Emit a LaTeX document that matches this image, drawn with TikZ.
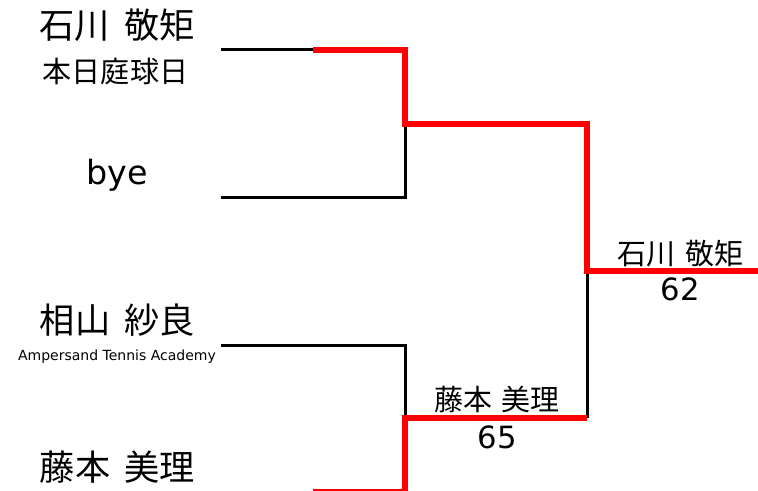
\documentclass[tikz,border=0pt]{standalone}
\usepackage{fontspec}
\setmainfont{DejaVu Sans}
\newfontfamily\jp{Noto Sans CJK JP}
\newfontfamily\lat{DejaVu Sans}
\newcommand{\gapA}{\hspace{0.41em}}
\newcommand{\gapB}{\hspace{0.34em}}
\begin{document}
\begin{tikzpicture}[x=0.75pt,y=-0.75pt,
  thin line/.style={line width=2.25pt,black},
  win line/.style={line width=4.5pt,red,line join=miter},
  namebig/.style={inner sep=0pt,font=\jp\fontsize{26.4}{26.4}\selectfont},
  clubjp/.style={inner sep=0pt,font=\jp\fontsize{21.8}{21.8}\selectfont},
  clublat/.style={inner sep=0pt,font=\lat\fontsize{10.5}{10.5}\selectfont},
  byetext/.style={inner sep=0pt,font=\lat\fontsize{25}{25}\selectfont},
  winname/.style={inner sep=0pt,font=\jp\fontsize{21.7}{21.7}\selectfont},
  score/.style={inner sep=0pt,font=\lat\fontsize{23}{23}\selectfont}]
\useasboundingbox (0,0) rectangle (758,491);
% coordinates
\coordinate (a0) at (221,50);
\coordinate (am) at (313,50);
\coordinate (a1) at (405,50);
\coordinate (ab) at (405,124);
\coordinate (abr) at (587,124);
\coordinate (f) at (587,271);
\coordinate (fe) at (758,271);
\coordinate (b0) at (221,198);
\coordinate (b1) at (405,198);
\coordinate (c0) at (221,346);
\coordinate (c1) at (405,346);
\coordinate (cd) at (405,418);
\coordinate (cdr) at (587,418);
\coordinate (dm) at (313,492.5);
\coordinate (d1) at (405,492.5);
% black lines
\draw[thin line] (a0) -- (am);
\draw[thin line] (b0) -- (b1) -- (ab);
\draw[thin line] (c0) -- (c1) -- (cd);
\draw[thin line] (cdr) -- (f);
% red lines
\draw[win line] (am) -- (a1) -- (ab) -- (abr) -- (f) -- (fe);
\draw[win line] (dm) -- (d1) -- (cd) -- (cdr);
% texts
\node[namebig] (p1) at (117,25.5) {石川\gapA 敬矩};
\node[clubjp] (c1t) at (115.5,72) {本日庭球日};
\node[byetext] (p2) at (117.5,175) {bye};
\node[namebig] (p3) at (117.5,320.5) {相山\gapA 紗良};
\node[clublat] (c3t) at (117,357) {Ampersand Tennis Academy};
\node[namebig] (p4) at (117.5,467.5) {藤本\gapA 美理};
\node[winname] (w2) at (497,399.5) {藤本\gapB 美理};
\node[score] (s2) at (497.5,437.5) {65};
\node[winname] (w1) at (680.5,253.5) {石川\gapB 敬矩};
\node[score] (s1) at (680.5,289) {62};
\end{tikzpicture}
\end{document}
